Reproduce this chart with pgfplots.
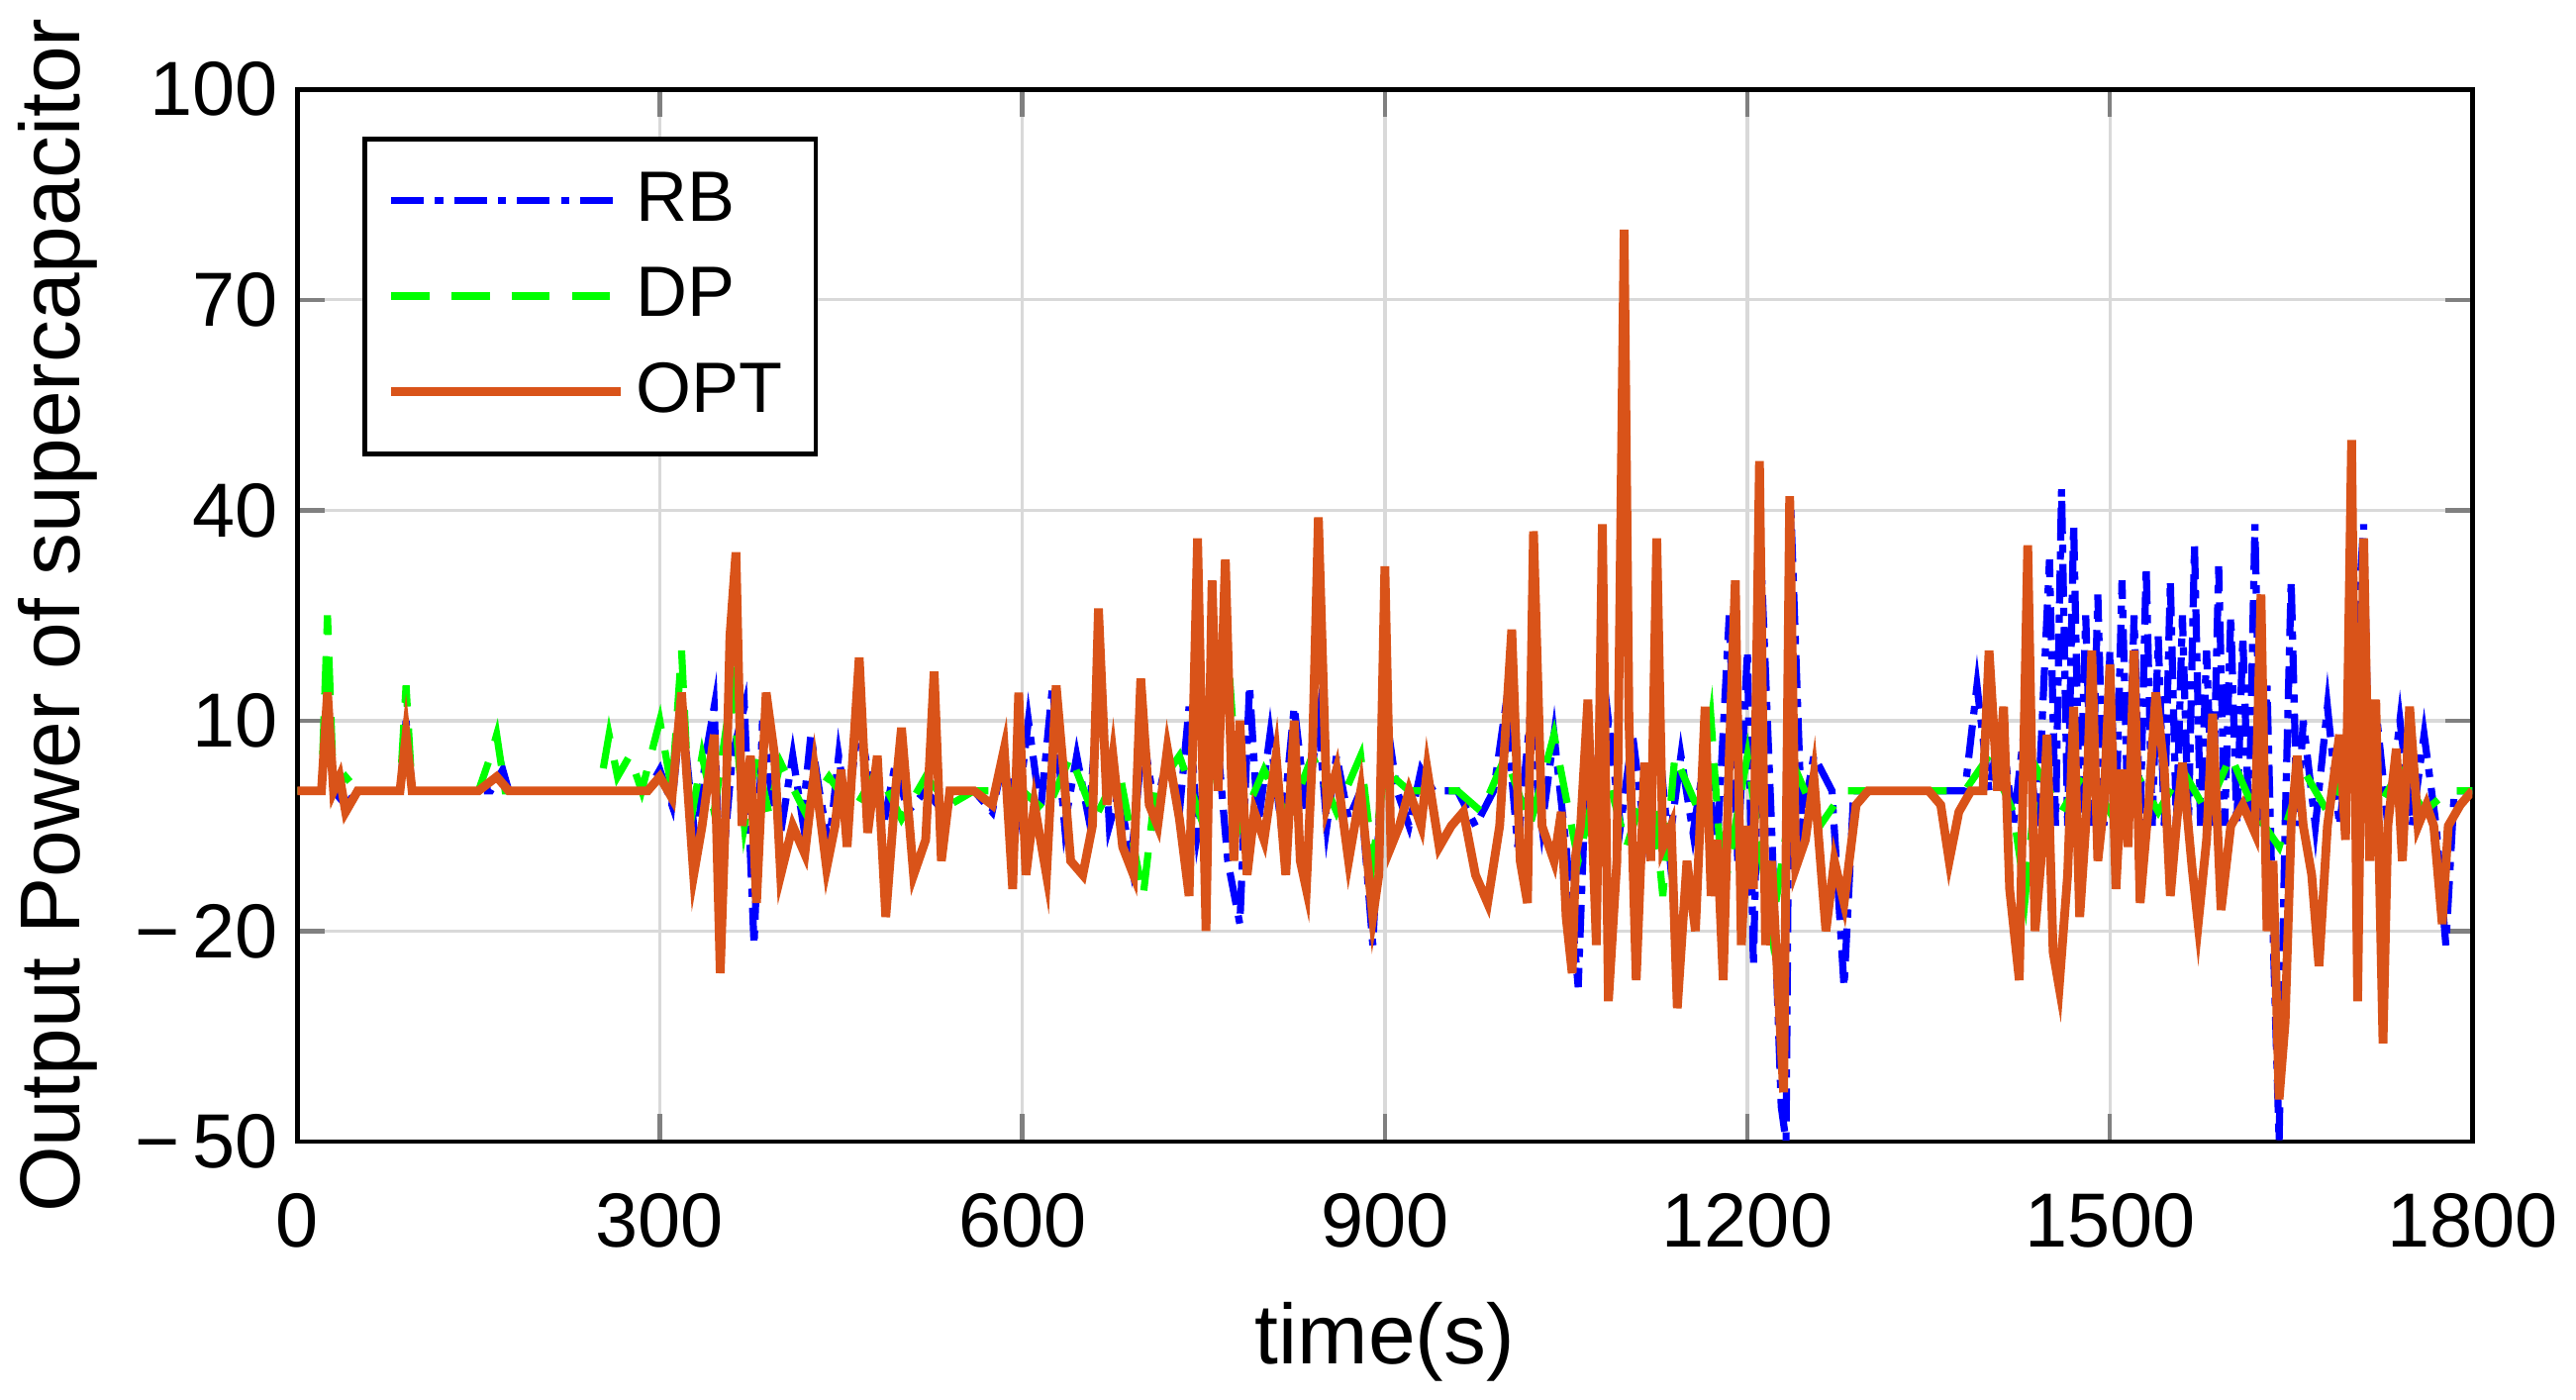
\documentclass[border=0pt]{standalone}
\usepackage{pgfplots}
\pgfplotsset{compat=1.18}
\usepackage{fontspec}
\setmainfont{Liberation Sans}
\definecolor{optc}{RGB}{217,83,25}
\begin{document}
\begin{tikzpicture}
\begin{axis}[
  width=397pt, height=192pt, scale only axis,
  xmin=0, xmax=1800, ymin=-50, ymax=100,
  xtick={0,300,...,1800}, ytick={-50,-20,10,40,70,100},
  yticklabels={−\,50,−\,20,10,40,70,100},
  xticklabels={0,300,600,900,1200,1500,1800},
  grid=major, grid style={gray!30, line width=0.6pt},
  axis line style={line width=0.8pt}, tick style={line width=0.8pt},
  tick align=inside, major tick length=5pt,
  xtick pos=both, ytick pos=both,
  ticklabel style={font=\fontsize{14}{16}\selectfont},
  xticklabel style={yshift=-6pt},
  label style={font=\fontsize{15.5}{18}\selectfont},
  xlabel style={yshift=-3pt},
  xlabel={time(s)}, ylabel={Output Power of supercapacitor},
  legend style={at={(0.03,0.955)}, anchor=north west, font=\fontsize{13}{15}\selectfont, draw=black, line width=0.8pt, row sep=3pt, inner sep=4pt},
  legend cell align=left,
  legend image code/.code={\draw[#1] (0pt,0pt) -- (42pt,0pt);},
]
\addplot[blue, line width=1.3pt, dash pattern=on 6pt off 2pt on 1.5pt off 2pt] coordinates {
(0,0)(20,0)(25,12)(30,0)(40,-2)(50,0)(85,0)(90,10)(95,0)(160,0)(170,3)(175,0)(290,0)(300,3)(310,-2)(318,12)(325,0)(330,-8)(338,5)(345,12)(350,-15)(360,5)(370,12)(378,-22)(385,10)(392,0)(400,-6)(410,5)(418,-4)(425,8)(432,0)(440,-8)(448,5)(455,-3)(465,10)(475,0)(485,-5)(495,4)(505,-3)(520,0)(535,-3)(545,0)(560,0)(575,-3)(585,5)(595,-5)(605,10)(615,-3)(625,15)(635,-5)(645,5)(655,-4)(665,18)(672,-5)(680,0)(690,-10)(700,8)(710,-3)(720,5)(730,-3)(738,12)(745,-6)(760,10)(770,-10)(780,-19)(788,15)(795,-5)(805,8)(815,-6)(825,12)(835,-3)(845,10)(852,-5)(860,5)(870,-4)(880,0)(890,-22)(900,12)(910,0)(920,-5)(930,3)(940,0)(960,0)(975,-5)(990,0)(1000,12)(1010,-8)(1020,10)(1030,-5)(1040,8)(1050,-8)(1060,-28)(1068,10)(1075,-5)(1085,10)(1095,-5)(1105,8)(1115,-6)(1125,10)(1135,-8)(1145,5)(1155,-6)(1165,5)(1175,-8)(1185,25)(1192,-10)(1200,20)(1205,-25)(1212,30)(1220,-5)(1228,-45)(1232,-50)(1236,40)(1245,-5)(1255,5)(1270,0)(1280,-28)(1288,0)(1300,0)(1370,0)(1380,0)(1390,15)(1400,0)(1410,10)(1420,-5)(1430,10)(1440,-5)(1450,33)(1455,-5)(1460,43)(1465,-5)(1470,38)(1475,-5)(1480,25)(1485,-5)(1490,28)(1495,-5)(1500,20)(1505,-5)(1510,30)(1515,-5)(1520,25)(1525,-5)(1530,32)(1535,-5)(1540,22)(1545,-5)(1550,30)(1555,-5)(1560,25)(1565,-5)(1570,35)(1575,-5)(1580,20)(1585,-5)(1590,32)(1595,-5)(1600,25)(1605,-5)(1610,22)(1615,-5)(1620,38)(1625,-5)(1630,15)(1635,-20)(1640,-50)(1645,-5)(1650,30)(1655,-5)(1660,10)(1670,-5)(1680,12)(1690,-5)(1700,10)(1710,38)(1715,-5)(1720,12)(1730,-5)(1740,10)(1750,-5)(1760,8)(1770,-5)(1778,-22)(1785,0)(1800,0)
};
\addlegendentry{RB}
\addplot[green, line width=1.3pt, dash pattern=on 7pt off 4pt] coordinates {
(0,0)(20,0)(25,25)(30,0)(40,2)(50,0)(85,0)(90,15)(95,0)(150,0)(160,5)(165,8)(172,0)(250,0)(258,8)(265,2)(275,5)(285,0)(300,10)(310,0)(318,20)(325,-5)(335,5)(345,-3)(360,15)(370,-5)(380,5)(390,-3)(400,4)(420,-3)(440,2)(460,-3)(480,3)(500,-4)(520,2)(540,-2)(560,0)(600,0)(620,-3)(640,5)(660,-4)(680,3)(700,-15)(710,0)(730,5)(750,-5)(770,20)(780,-5)(800,3)(820,-4)(840,5)(860,-3)(880,5)(890,-10)(900,3)(920,0)(960,0)(980,-3)(1000,5)(1020,-5)(1040,8)(1060,-10)(1080,5)(1100,-8)(1120,3)(1130,-15)(1140,5)(1160,-3)(1170,10)(1180,-15)(1200,5)(1220,-20)(1240,3)(1260,-5)(1280,0)(1300,0)(1380,0)(1400,5)(1420,-3)(1430,-15)(1440,3)(1460,-3)(1480,3)(1500,-3)(1520,3)(1540,-3)(1560,3)(1580,-3)(1600,5)(1620,-3)(1640,-8)(1660,3)(1680,-3)(1700,5)(1720,-3)(1740,3)(1760,-3)(1780,0)(1800,0)
};
\addlegendentry{DP}
\addplot[optc, line width=1.6pt] coordinates {
(0,0)(20,0)(25,14)(30,0)(35,2)(40,-3)(50,0)(85,0)(90,8)(95,0)(150,0)(165,2)(175,0)(260,0)(290,0)(300,2)(310,-1)(318,14)(322,3)(328,-12)(335,-5)(345,8)(350,-26)(355,0)(358,22)(363,34)(368,-5)(375,5)(380,-16)(388,14)(395,5)(400,-12)(410,-5)(420,-9)(428,3)(438,-11)(445,-5)(450,3)(455,-8)(465,19)(472,-6)(480,5)(487,-18)(495,0)(500,9)(510,-12)(520,-7)(527,17)(533,-10)(540,0)(560,0)(575,-2)(585,6)(592,-14)(597,14)(603,-12)(610,-2)(620,-12)(628,15)(634,3)(640,-10)(650,-12)(658,-5)(663,26)(670,-2)(675,5)(683,-8)(692,-12)(698,16)(705,-2)(712,-5)(720,6)(730,-4)(738,-15)(745,36)(752,-20)(757,30)(762,0)(768,33)(775,-10)(780,10)(786,-12)(792,-3)(800,-7)(810,5)(818,-12)(825,10)(830,-10)(835,-14)(840,5)(845,39)(852,-2)(860,3)(870,-10)(880,0)(890,-18)(895,-12)(900,32)(905,-8)(912,-5)(920,0)(930,-5)(935,3)(945,-8)(955,-5)(965,-3)(975,-12)(985,-16)(995,-5)(1005,23)(1012,-10)(1018,-16)(1023,37)(1030,-5)(1040,-10)(1046,-3)(1050,-18)(1055,-26)(1058,-9)(1062,-5)(1068,13)(1075,-22)(1080,38)(1085,-30)(1092,-10)(1098,80)(1102,10)(1108,-27)(1115,4)(1120,-10)(1125,36)(1130,-8)(1137,-5)(1142,-31)(1150,-10)(1157,-20)(1165,12)(1170,-15)(1175,-7)(1180,-27)(1185,5)(1190,30)(1195,-22)(1200,-5)(1205,-14)(1210,47)(1215,-22)(1220,-10)(1230,-43)(1235,42)(1240,-11)(1248,-7)(1255,2)(1265,-20)(1272,-10)(1280,-16)(1290,-2)(1300,0)(1350,0)(1360,-2)(1367,-10)(1375,-3)(1385,0)(1395,0)(1400,20)(1407,0)(1412,12)(1417,-14)(1425,-27)(1432,35)(1438,-20)(1443,-10)(1448,8)(1453,-23)(1458,-28)(1465,-12)(1470,12)(1475,-18)(1480,-5)(1485,20)(1490,-10)(1495,-2)(1500,18)(1505,-14)(1510,3)(1515,-8)(1520,20)(1525,-16)(1532,-2)(1538,14)(1545,3)(1550,-15)(1555,-5)(1560,4)(1568,-11)(1573,-19)(1580,-7)(1585,11)(1592,-17)(1600,-5)(1610,-2)(1620,-6)(1625,28)(1630,-20)(1635,-10)(1640,-44)(1645,-33)(1650,-5)(1655,5)(1660,-5)(1667,-12)(1673,-25)(1680,-5)(1690,8)(1695,-7)(1700,50)(1705,-30)(1710,36)(1715,-10)(1720,13)(1726,-36)(1730,-5)(1737,6)(1742,-10)(1748,12)(1755,-5)(1762,-2)(1768,-5)(1775,-19)(1780,-5)(1790,-2)(1800,0)
};
\addlegendentry{OPT}
\end{axis}
\end{tikzpicture}
\end{document}
